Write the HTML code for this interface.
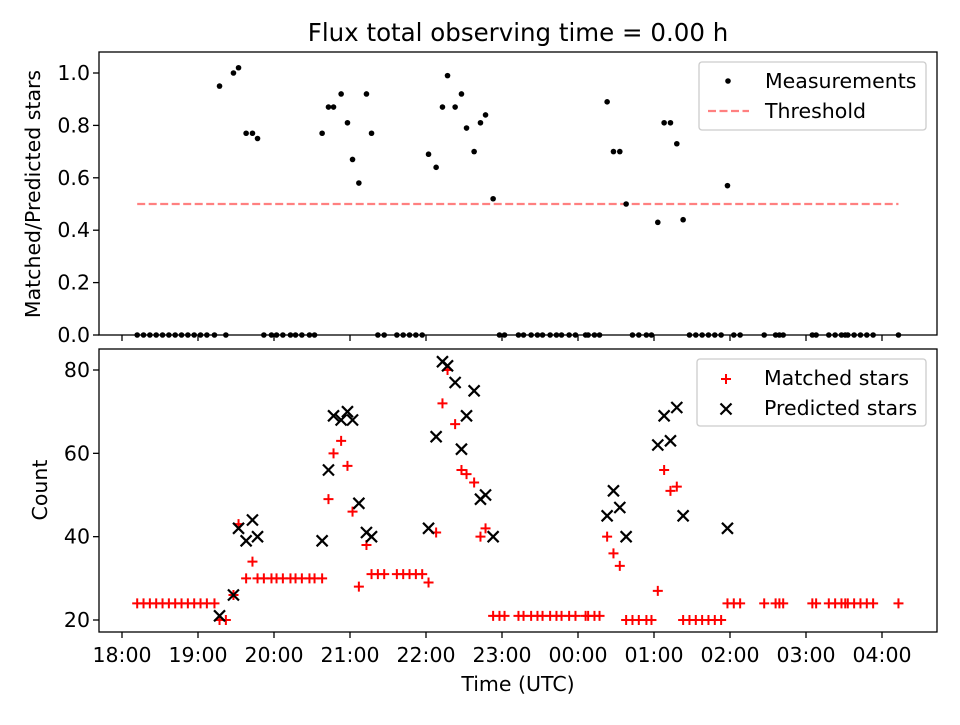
<!DOCTYPE html>
<html><head><meta charset="utf-8"><style>
body{margin:0;background:#fff}
svg text{font-family:"DejaVu Sans","Liberation Sans",sans-serif;fill:#000}
</style></head><body>
<svg id="chart" width="960" height="720" xmlns="http://www.w3.org/2000/svg">
<rect width="960" height="720" fill="#fff"/>
<text x="518" y="41" font-size="24.5" text-anchor="middle">Flux total observing time = 0.00 h</text>
<g id="topG"></g><g id="botG"></g>
</svg>
<script>
// minutes since 18:00 UTC
const times=[12,17,22,27,32,37,42,47,52,57,62,67,73,77,82,88,92,98,103,107,112,118,122,127,133,137,142,148,152,158,163,167,173,178,182,187,193,197,202,207,217,222,227,232,237,242,248,253,257,263,268,272,278,283,287,293,298,302,313,317,323,328,332,338,343,347,353,358,366,368,373,377,383,388,393,398,403,408,414,418,423,428,433,438,443,448,453,458,463,468,473,478,483,488,507,516,519,522,545,548,558,563,568,571,573,578,583,588,593,613];
const matched=[24,24,24,24,24,24,24,24,24,24,24,24,24,20,20,26,43,30,34,30,30,30,30,30,30,30,30,30,30,30,49,60,63,57,46,28,38,31,31,31,31,31,31,31,31,29,41,72,80,67,56,55,53,40,42,21,21,21,21,21,21,21,21,21,21,21,21,21,21,21,21,21,40,36,33,20,20,20,20,20,27,56,51,52,20,20,20,20,20,20,20,24,24,24,24,24,24,24,24,24,24,24,24,24,24,24,24,24,24,24];
const predicted=[null,null,null,null,null,null,null,null,null,null,null,null,null,21,null,26,42,39,44,40,null,null,null,null,null,null,null,null,null,39,56,69,68,70,68,48,41,40,null,null,null,null,null,null,null,42,64,82,81,77,61,69,75,49,50,40,null,null,null,null,null,null,null,null,null,null,null,null,null,null,null,null,45,51,47,40,null,null,null,null,62,69,63,71,45,null,null,null,null,null,null,42,null,null,null,null,null,null,null,null,null,null,null,null,null,null,null,null,null,null];
const ratio=[0,0,0,0,0,0,0,0,0,0,0,0,0,0.95,0,1.0,1.02,0.77,0.77,0.75,0,0,0,0,0,0,0,0,0,0.77,0.87,0.87,0.92,0.81,0.67,0.58,0.92,0.77,0,0,0,0,0,0,0,0.69,0.64,0.87,0.99,0.87,0.92,0.79,0.70,0.81,0.84,0.52,0,0,0,0,0,0,0,0,0,0,0,0,0,0,0,0,0.89,0.70,0.70,0.50,0,0,0,0,0.43,0.81,0.81,0.73,0.44,0,0,0,0,0,0,0.57,0,0,0,0,0,0,0,0,0,0,0,0,0,0,0,0,0,0];
const threshold=0.5;
const xTickLabels=["18:00","19:00","20:00","21:00","22:00","23:00","00:00","01:00","02:00","03:00","04:00"];
const topTicks=[0,0.2,0.4,0.6,0.8,1.0];
const botTicks=[20,40,60,80];

const NS="http://www.w3.org/2000/svg";
const L=99,R=937,FS=20.5,TL=6;
const xs=m=>122+m*76/60;
const yTop=v=>335-v*262;
const yBot=v=>620-(v-20)*250/60;
function el(p,t,a){const e=document.createElementNS(NS,t);for(const k in a)e.setAttribute(k,a[k]);p.appendChild(e);return e;}
const gTop=document.getElementById('topG'),gBot=document.getElementById('botG');

function axes(g,y0,y1,name){
  const f=el(g,'rect',{x:L,y:y0,width:R-L,height:y1-y0,fill:'none',stroke:'#000','stroke-width':1.3});
  
  
  xTickLabels.forEach((lab,i)=>{
    const x=xs(i*60);
    const t=el(g,'line',{x1:x,x2:x,y1:y1,y2:y1+TL,stroke:'#000','stroke-width':1.3});
    
    
  });
}
axes(gTop,52,335,'top-axes');
axes(gBot,349,632,'bottom-axes');

topTicks.forEach(v=>{
  const y=yTop(v);
  const t=el(gTop,'line',{x1:L-TL,x2:L,y1:y,y2:y,stroke:'#000','stroke-width':1.3});
  
  
  const tx=el(gTop,'text',{x:L-9,y:y+7,'font-size':FS,'text-anchor':'end'});
  tx.textContent=v.toFixed(1);
  
  
});
botTicks.forEach(v=>{
  const y=yBot(v);
  const t=el(gBot,'line',{x1:L-TL,x2:L,y1:y,y2:y,stroke:'#000','stroke-width':1.3});
  
  
  const tx=el(gBot,'text',{x:L-9,y:y+7,'font-size':FS,'text-anchor':'end'});
  tx.textContent=String(v);
  
  
});
xTickLabels.forEach((lab,i)=>{
  const tx=el(gBot,'text',{x:xs(i*60),y:662,'font-size':FS,'text-anchor':'middle'});
  tx.textContent=lab;
  
  
});
let t1=el(gTop,'text',{x:0,y:0,'font-size':FS,'text-anchor':'middle',transform:'translate(40,194) rotate(-90)'});
t1.textContent='Matched/Predicted stars';


let t2=el(gBot,'text',{x:0,y:0,'font-size':FS,'text-anchor':'middle',transform:'translate(47,490) rotate(-90)'});
t2.textContent='Count';


let t3=el(gBot,'text',{x:518,y:691,'font-size':FS,'text-anchor':'middle'});
t3.textContent='Time (UTC)';



const th=el(gTop,'line',{x1:xs(times[0]),x2:xs(times[times.length-1]),y1:yTop(threshold),y2:yTop(threshold),stroke:'#ff8080','stroke-width':2.2,'stroke-dasharray':'8,3.5'});



times.forEach((m,i)=>{
  const c=el(gTop,'circle',{cx:xs(m),cy:yTop(ratio[i]),r:2.8,fill:'#000'});
  
  
});
function plus(g,x,y,s,col){return el(g,'path',{d:`M${x-s},${y}H${x+s}M${x},${y-s}V${y+s}`,stroke:col,'stroke-width':2,fill:'none'});}
function cross(g,x,y,s,col){return el(g,'path',{d:`M${x-s},${y-s}L${x+s},${y+s}M${x-s},${y+s}L${x+s},${y-s}`,stroke:col,'stroke-width':2.2,fill:'none'});}
times.forEach((m,i)=>{
  const p=plus(gBot,xs(m),yBot(matched[i]),5,'#f00');
  
  
});
times.forEach((m,i)=>{
  if(predicted[i]==null)return;
  const p=cross(gBot,xs(m),yBot(predicted[i]),5.5,'#000');
  
  
});

function legend(g,x,y,w,h,name){
  const r=el(g,'rect',{x:x,y:y,width:w,height:h,rx:3,fill:'#fff','fill-opacity':0.8,stroke:'#ccc','stroke-width':1.3});
  
  
}
legend(gTop,699,62,227,68,'top-legend');
let c=el(gTop,'circle',{cx:728,cy:81,r:2.8,fill:'#000'});


let lt=el(gTop,'text',{x:765,y:88,'font-size':FS});lt.textContent='Measurements';


let ll=el(gTop,'line',{x1:708,x2:749,y1:111,y2:111,stroke:'#ff8080','stroke-width':2.2,'stroke-dasharray':'8,3.5'});


lt=el(gTop,'text',{x:765,y:118,'font-size':FS});lt.textContent='Threshold';



legend(gBot,697,359,229,67,'bottom-legend');
let pm=plus(gBot,726,379,5,'#f00');


lt=el(gBot,'text',{x:764,y:385,'font-size':FS});lt.textContent='Matched stars';


let cm=cross(gBot,726,409,5.5,'#000');


lt=el(gBot,'text',{x:764,y:415,'font-size':FS});lt.textContent='Predicted stars';


</script>
</body></html>
